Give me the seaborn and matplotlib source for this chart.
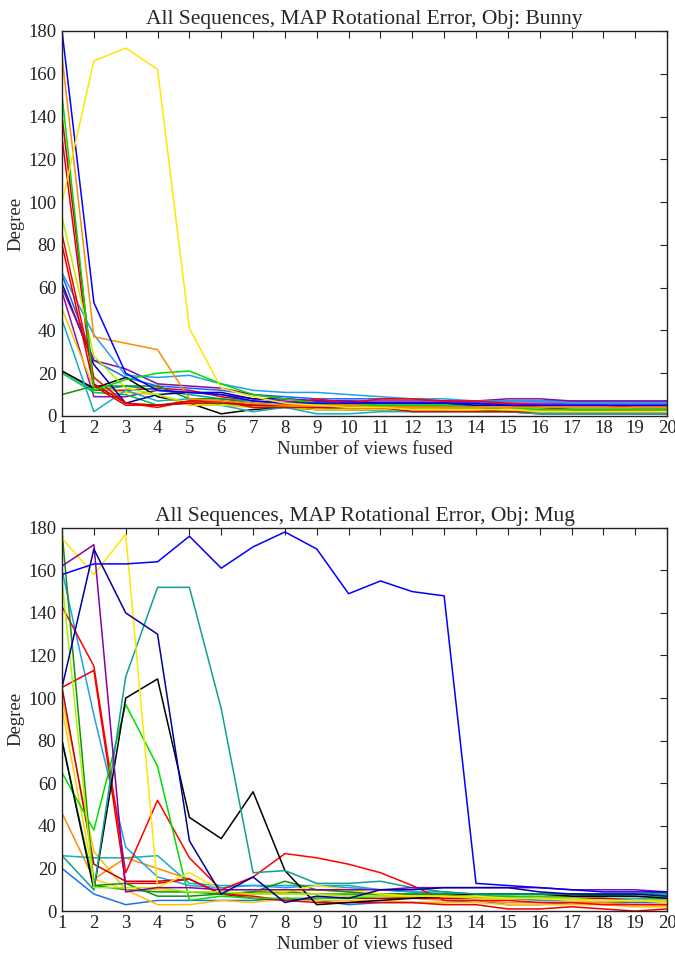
import numpy as np
import pandas as pd
import matplotlib
matplotlib.use("Agg")
import matplotlib.pyplot as plt
import seaborn as sns

views = list(range(1, 21))
xticks = list(range(1, 21))
yticks = [0, 20, 40, 60, 80, 100, 120, 140, 160, 180]

# ---- Bunny series (degrees) ----
bunny_names = ["b_yellow", "b_blue", "b_orange", "b_green", "b_darkred", "b_red", "b_red2",
               "b_yellowgreen", "b_lightblue", "b_purple", "b_navy", "b_cyan", "b_gold",
               "b_black", "b_green2", "b_darkgreen", "b_teal", "b_purple2", "b_red3", "b_blue2"]
bunny_colors = ["#ffe600", "#0000ff", "#ff8c00", "#00dd00", "#cc0000", "#ff0000", "#e00000",
                "#b0f000", "#1f9fef", "#7f0fa0", "#0000a0", "#10b0c0", "#ffc000",
                "#000000", "#00c040", "#109010", "#00a090", "#9010b0", "#dd0010", "#2060ff"]
b_yellow      = [100, 166, 172, 162, 41, 13, 9, 6, 5, 4, 4, 3, 3, 3, 3, 2, 2, 2, 2, 2]
b_blue        = [180, 53, 20, 12, 11, 10, 7, 6, 6, 6, 6, 6, 6, 6, 5, 5, 5, 5, 5, 5]
b_orange      = [168, 37, 34, 31, 8, 7, 6, 5, 5, 5, 4, 4, 4, 4, 4, 4, 4, 4, 4, 4]
b_green       = [150, 12, 17, 20, 21, 15, 10, 8, 6, 5, 5, 5, 5, 4, 4, 3, 3, 3, 3, 3]
b_darkred     = [140, 15, 6, 5, 6, 6, 5, 5, 5, 4, 4, 4, 4, 4, 4, 4, 3, 3, 3, 3]
b_red         = [85, 18, 6, 4, 7, 7, 5, 5, 8, 6, 8, 8, 7, 7, 6, 5, 5, 5, 4, 4]
b_red2        = [80, 14, 5, 5, 7, 7, 4, 4, 4, 4, 4, 2, 2, 2, 2, 2, 2, 2, 2, 2]
b_yellowgreen = [93, 28, 13, 10, 6, 5, 5, 5, 4, 4, 4, 4, 3, 3, 3, 3, 3, 3, 3, 3]
b_lightblue   = [67, 38, 19, 18, 19, 15, 12, 11, 11, 10, 9, 8, 8, 7, 7, 7, 6, 6, 6, 6]
b_purple      = [60, 26, 22, 15, 14, 13, 10, 8, 7, 7, 7, 7, 7, 7, 8, 8, 7, 7, 7, 7]
b_navy        = [62, 24, 6, 10, 11, 11, 8, 8, 7, 7, 6, 6, 6, 5, 5, 5, 5, 5, 5, 5]
b_cyan        = [45, 2, 12, 7, 8, 5, 2, 4, 1, 1, 2, 2, 2, 2, 2, 1, 1, 1, 1, 1]
b_gold        = [50, 13, 11, 10, 5, 5, 4, 4, 3, 3, 3, 3, 3, 2, 2, 2, 2, 2, 2, 2]
b_black       = [21, 13, 18, 9, 6, 1, 3, 4, 3, 3, 3, 3, 3, 3, 2, 1, 1, 1, 1, 1]
b_green2      = [20, 11, 10, 5, 6, 6, 5, 4, 4, 3, 3, 3, 3, 3, 3, 2, 2, 2, 2, 2]
b_darkgreen   = [10, 14, 14, 14, 8, 8, 6, 5, 5, 5, 4, 4, 4, 4, 3, 3, 3, 3, 3, 3]
b_teal        = [21, 12, 14, 12, 10, 8, 7, 6, 6, 5, 5, 5, 5, 5, 5, 4, 4, 4, 4, 4]
b_purple2     = [58, 9, 9, 12, 11, 10, 8, 7, 6, 6, 6, 6, 6, 6, 6, 6, 6, 6, 6, 6]
b_red3        = [130, 12, 12, 13, 12, 9, 7, 6, 5, 5, 5, 5, 5, 5, 5, 4, 4, 4, 4, 4]
b_blue2       = [66, 26, 18, 14, 13, 12, 10, 9, 8, 8, 8, 8, 7, 7, 7, 7, 7, 7, 7, 7]

# ---- Mug series (degrees) ----
mug_names = ["m_blue", "m_navy", "m_purple", "m_yellow", "m_yellowgreen", "m_teal", "m_black",
             "m_green", "m_green2", "m_red", "m_red2", "m_darkred", "m_lightblue", "m_cyan",
             "m_orange", "m_gold", "m_blue3", "m_darkgreen", "m_yellow2"]
mug_colors = ["#0000ff", "#0000a0", "#8a00a8", "#ffe600", "#b0f000", "#10a090", "#000000",
              "#00dd00", "#109010", "#ff0000", "#ee0000", "#c00010", "#1f9fef", "#10b0c0",
              "#ff8c00", "#ffc000", "#2070ee", "#00a020", "#ffd000"]
m_blue        = [158, 163, 163, 164, 176, 161, 171, 178, 170, 149, 155, 150, 148, 13, 12, 11, 10, 9, 9, 9]
m_navy        = [105, 170, 140, 130, 33, 8, 16, 4, 7, 6, 10, 10, 11, 11, 11, 9, 8, 8, 8, 7]
m_purple      = [162, 172, 9, 11, 11, 10, 10, 10, 10, 10, 10, 11, 11, 11, 11, 11, 10, 10, 10, 9]
m_yellow      = [175, 158, 177, 11, 18, 10, 10, 9, 12, 10, 8, 7, 7, 7, 6, 6, 5, 5, 5, 4]
m_yellowgreen = [155, 11, 11, 11, 9, 9, 8, 8, 8, 7, 7, 7, 7, 6, 6, 6, 6, 5, 5, 5]
m_teal        = [26, 10, 110, 152, 152, 95, 18, 19, 13, 13, 14, 11, 9, 8, 8, 8, 8, 8, 8, 8]
m_black       = [80, 10, 100, 109, 44, 34, 56, 19, 3, 4, 5, 6, 7, 8, 8, 8, 7, 7, 7, 6]
m_green       = [65, 38, 97, 68, 5, 7, 6, 6, 6, 6, 7, 7, 7, 7, 7, 7, 7, 7, 7, 7]
m_green2      = [178, 12, 13, 7, 7, 8, 9, 14, 10, 9, 8, 8, 8, 8, 8, 8, 8, 8, 8, 9]
m_red         = [143, 115, 18, 52, 25, 10, 16, 27, 25, 22, 18, 12, 5, 5, 5, 4, 4, 3, 3, 3]
m_red2        = [105, 113, 13, 13, 15, 8, 7, 5, 4, 4, 4, 4, 3, 3, 1, 1, 2, 1, 0, 1]
m_darkred     = [105, 22, 14, 14, 15, 8, 6, 5, 6, 6, 6, 6, 6, 6, 6, 6, 6, 6, 5, 5]
m_lightblue   = [160, 92, 30, 16, 12, 11, 12, 11, 12, 11, 10, 9, 9, 8, 6, 5, 5, 5, 5, 5]
m_cyan        = [26, 25, 25, 26, 13, 12, 12, 12, 12, 12, 10, 9, 8, 7, 7, 6, 6, 6, 6, 6]
m_orange      = [46, 15, 25, 20, 15, 8, 8, 8, 8, 7, 7, 6, 5, 5, 4, 4, 4, 4, 3, 3]
m_gold        = [100, 28, 10, 3, 3, 5, 4, 6, 5, 5, 5, 4, 4, 4, 3, 3, 3, 3, 2, 2]
m_blue3       = [20, 8, 3, 5, 5, 5, 5, 6, 5, 3, 4, 4, 4, 5, 3, 3, 4, 4, 4, 4]
m_darkgreen   = [80, 12, 10, 9, 9, 8, 9, 9, 8, 8, 8, 8, 8, 8, 8, 8, 8, 7, 8, 8]
m_yellow2     = [95, 15, 10, 10, 9, 9, 8, 9, 10, 9, 8, 7, 6, 6, 6, 5, 5, 5, 4, 4]

bunny_vals = [b_yellow, b_blue, b_orange, b_green, b_darkred, b_red, b_red2, b_yellowgreen,
              b_lightblue, b_purple, b_navy, b_cyan, b_gold, b_black, b_green2, b_darkgreen,
              b_teal, b_purple2, b_red3, b_blue2]
mug_vals = [m_blue, m_navy, m_purple, m_yellow, m_yellowgreen, m_teal, m_black, m_green,
            m_green2, m_red, m_red2, m_darkred, m_lightblue, m_cyan, m_orange, m_gold,
            m_blue3, m_darkgreen, m_yellow2]


def to_long(names, vals):
    rows = []
    for n, v in zip(names, vals):
        for x, y in zip(views, v):
            rows.append((n, x, y))
    return pd.DataFrame(rows, columns=["series", "views", "deg"])


sns.set_style("white")
plt.rcParams["font.family"] = ["Liberation Serif", "DejaVu Serif"]
plt.rcParams["xtick.direction"] = "in"
plt.rcParams["ytick.direction"] = "in"

fig = plt.figure(figsize=(6.75, 9.56), dpi=100)
ax1 = fig.add_axes([0.0919, 0.5649, 0.8963, 0.4027])
ax2 = fig.add_axes([0.0919, 0.0470, 0.8963, 0.4010])

panels = [
    (ax1, bunny_names, bunny_vals, bunny_colors, "All Sequences, MAP Rotational Error, Obj: Bunny"),
    (ax2, mug_names, mug_vals, mug_colors, "All Sequences, MAP Rotational Error, Obj: Mug"),
]

for ax, names, vals, colors, title in panels:
    df = to_long(names, vals)
    pal = dict(zip(names, colors))
    sns.lineplot(data=df, x="views", y="deg", hue="series", palette=pal,
                 hue_order=names[::-1], linewidth=1.1, legend=False, ax=ax,
                 estimator=None, sort=False)
    ax.set_xlim(1, 20)
    ax.set_ylim(0, 180)
    ax.set_xticks(xticks)
    ax.set_yticks(yticks)
    ax.tick_params(axis="both", which="both", direction="in", top=True, right=True,
                   labelsize=13.5, length=5, width=0.8, pad=4, colors="#222222")
    ax.tick_params(axis="x", pad=3)
    for s in ax.spines.values():
        s.set_visible(True)
        s.set_linewidth(1.0)
        s.set_color("#222222")
    ax.set_title(title, fontsize=15.5, pad=5)
    ax.set_xlabel("Number of views fused", fontsize=13.5, labelpad=3)
    ax.set_ylabel("Degree", fontsize=13.5, labelpad=3)

fig.savefig("out.png", dpi=100, facecolor="white")
